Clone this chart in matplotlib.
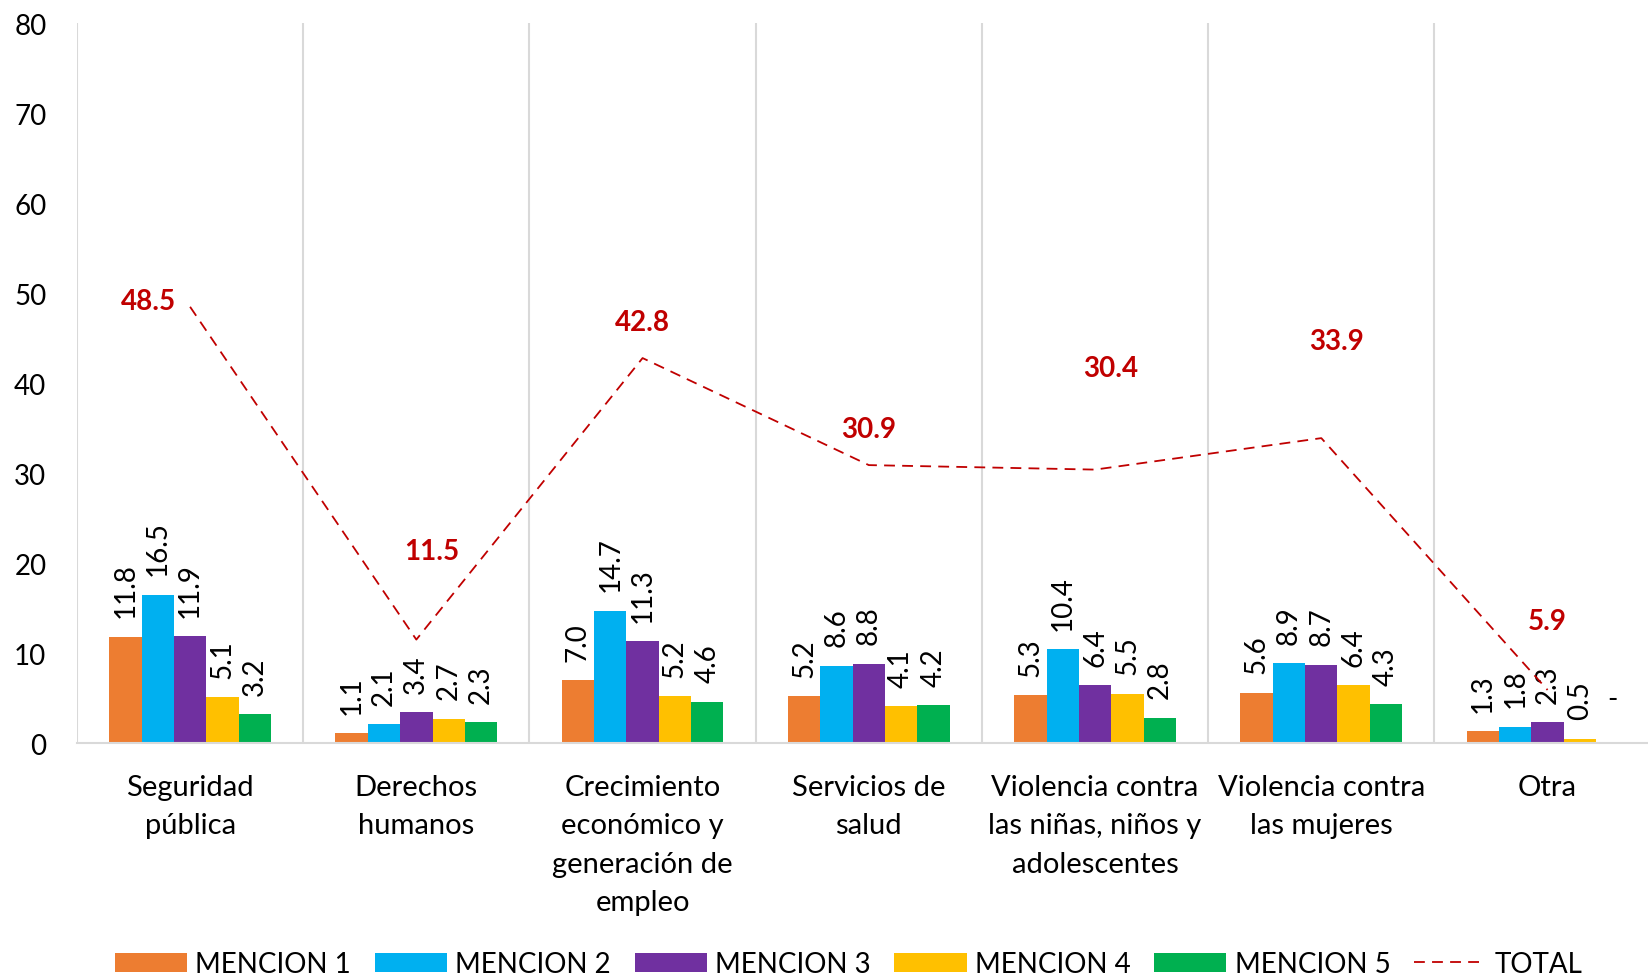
import numpy as np
import matplotlib.pyplot as plt

# categorías y valores
categorias = ["Seguridad\npública", "Derechos\nhumanos",
              "Crecimiento\neconómico y\ngeneración de\nempleo",
              "Servicios de\nsalud", "Violencia contra\nlas niñas, niños y\nadolescentes",
              "Violencia contra\nlas mujeres", "Otra"]
mencion1 = [11.8, 1.1, 7.0, 5.2, 5.3, 5.6, 1.3]
mencion2 = [16.5, 2.1, 14.7, 8.6, 10.4, 8.9, 1.8]
mencion3 = [11.9, 3.4, 11.3, 8.8, 6.4, 8.7, 2.3]
mencion4 = [5.1, 2.7, 5.2, 4.1, 5.5, 6.4, 0.5]
mencion5 = [3.2, 2.3, 4.6, 4.2, 2.8, 4.3, 0.0]
total = [48.5, 11.5, 42.8, 30.9, 30.4, 33.9, 5.9]

series = [mencion1, mencion2, mencion3, mencion4, mencion5]
nombres = ["MENCION 1", "MENCION 2", "MENCION 3", "MENCION 4", "MENCION 5"]
colores = ["#ED7D31", "#00B0F0", "#7030A0", "#FFC000", "#00B050"]
rojo = "#C00000"

# desplazamiento (puntos) de las etiquetas del total
off_total = [(-30, 4), (11, 64), (0, 26), (0, 26), (11, 73), (11, 70), (0, 50)]

plt.rcParams['font.family'] = ['Lato', 'DejaVu Sans']
fs = 20

fig = plt.figure(figsize=(16.48, 9.79), dpi=100)
ax = fig.add_axes([0.0467, 0.24, 0.961, 0.735])

x = np.arange(len(categorias))
w = 0.143
barras = []
for i, (vals, nom, col) in enumerate(zip(series, nombres, colores)):
    pos = x + (i - 2) * w
    barras.append(ax.bar(pos, vals, width=w, color=col, label=nom, zorder=2))
    for px, v in zip(pos, vals):
        if v == 0:
            ax.annotate("-", (px, v), xytext=(0, 22), textcoords="offset points",
                        ha="center", va="bottom", fontsize=fs)
        else:
            ax.annotate(f"{v:.1f}", (px, v), xytext=(0, 14), textcoords="offset points",
                        ha="center", va="bottom", rotation=90, fontsize=fs)

linea, = ax.plot(x, total, color=rojo, linestyle=(0, (6, 4)), linewidth=1.3,
                 label="TOTAL", zorder=3)
for px, v, (dx, dy) in zip(x, total, off_total):
    ax.annotate(f"{v:.1f}", (px, v), xytext=(dx, dy), textcoords="offset points",
                ha="center", va="center", fontsize=fs, fontweight="bold", color=rojo)

ax.set_xlim(-0.5, len(categorias) - 0.5)
ax.set_ylim(0, 80)
ax.set_yticks(np.arange(0, 81, 10))
ax.set_xticks(x)
ax.set_xticklabels(categorias, fontsize=21, linespacing=1.6)
ax.tick_params(axis="y", length=0, pad=22, labelsize=fs)
ax.tick_params(axis="x", length=0, pad=22)

for b in np.arange(-0.5, len(categorias), 1):
    ax.axvline(b, color="#D9D9D9", linewidth=1.5, zorder=1)
for s in ["top", "right", "left"]:
    ax.spines[s].set_visible(False)
ax.spines["bottom"].set_color("#D9D9D9")
ax.spines["bottom"].set_linewidth(1.5)

ax.legend(handles=barras + [linea], labels=nombres + ["TOTAL"],
          loc="center", bbox_to_anchor=(0.515, 14 / 979), bbox_transform=fig.transFigure,
          ncol=6, frameon=False, fontsize=fs, handlelength=2.6, handleheight=0.7,
          handletextpad=0.3, columnspacing=0.85)

fig.savefig("out.png", dpi=100)
